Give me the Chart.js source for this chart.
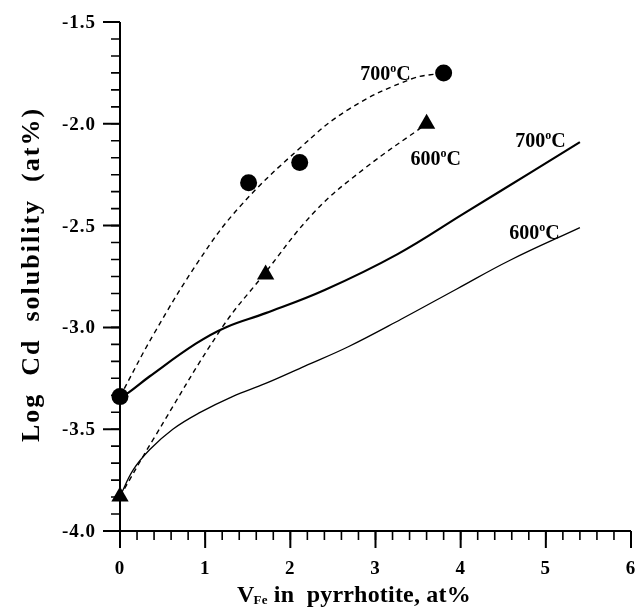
<!DOCTYPE html>
<html>
<head>
<meta charset="utf-8">
<script src="https://cdn.jsdelivr.net/npm/chart.js@4.4.0/dist/chart.umd.min.js"></script>
<style>
  html, body { margin: 0; padding: 0; background: #fff; }
  #wrap { width: 641px; height: 607px; }
</style>
</head>
<body>
<div id="wrap"><canvas id="myChart"></canvas></div>
<script>
// measured points (circles = 700C, triangles = 600C)
var circleX = [0, 1.51, 2.11, 3.80];
var circleY = [-3.34, -2.29, -2.19, -1.75];
var triX = [0, 1.71, 3.60];
var triY = [-3.83, -2.74, -2.00];

// dashed fitted curves through the points
var dash700X = [0, 0.4, 0.93, 1.40, 2.11, 2.68, 3.42, 3.80];
var dash700Y = [-3.34, -3.03, -2.67, -2.41, -2.12, -1.93, -1.78, -1.75];
var dash600X = [0, 0.39, 1.20, 1.67, 2.29, 2.87, 3.60];
var dash600Y = [-3.83, -3.55, -3.00, -2.75, -2.43, -2.22, -2.00];

// solid calculated curves
var solid700X = [0, 0.1, 0.35, 0.89, 1.24, 1.71, 2.41, 3.26, 4.04, 4.82, 5.40];
var solid700Y = [-3.34, -3.32, -3.24, -3.08, -3.00, -2.93, -2.815, -2.64, -2.44, -2.24, -2.09];
var solid600X = [0, 0.155, 0.35, 0.62, 0.93, 1.32, 1.71, 2.17, 2.68, 3.30, 3.96, 4.58, 5.40];
var solid600Y = [-3.83, -3.70, -3.60, -3.50, -3.42, -3.34, -3.275, -3.19, -3.095, -2.96, -2.81, -2.67, -2.51];

// axes
var xTicks = [0, 1, 2, 3, 4, 5, 6];
var yTicks = [-4.0, -3.5, -3.0, -2.5, -2.0, -1.5];
var xMinorStep = 0.2;
var yMinorStep = 0.5 / 6;

// curve labels
var labelTemp = ['700', '600', '700', '600'];
var labelX = [2.82, 3.41, 4.64, 4.57];
var labelY = [-1.75, -2.17, -2.08, -2.53];

function pts(xs, ys) {
  return xs.map(function (x, i) { return { x: x, y: ys[i] }; });
}

var serif = '"Liberation Serif", "Times New Roman", serif';

var axesPlugin = {
  id: 'axes',
  beforeDatasetsDraw: function (chart) {
    var ctx = chart.ctx, xs = chart.scales.x, ys = chart.scales.y;
    var left = xs.getPixelForValue(xTicks[0]);
    var right = xs.getPixelForValue(xTicks[xTicks.length - 1]);
    var bottom = ys.getPixelForValue(yTicks[0]);
    var top = ys.getPixelForValue(yTicks[yTicks.length - 1]);
    ctx.save();
    ctx.strokeStyle = '#000';
    ctx.lineWidth = 2;
    ctx.beginPath();
    ctx.moveTo(left, top); ctx.lineTo(left, bottom);
    ctx.moveTo(left, bottom); ctx.lineTo(right, bottom);
    ctx.stroke();

    // major ticks
    ctx.beginPath();
    xTicks.forEach(function (v) {
      var p = xs.getPixelForValue(v);
      ctx.moveTo(p, bottom); ctx.lineTo(p, bottom + 17);
    });
    yTicks.forEach(function (v) {
      var p = ys.getPixelForValue(v);
      ctx.moveTo(left, p); ctx.lineTo(left - 17, p);
    });
    ctx.stroke();

    // minor ticks
    ctx.lineWidth = 1.6;
    ctx.beginPath();
    for (var v = xTicks[0]; v < xTicks[xTicks.length - 1] - 1e-6; v += xMinorStep) {
      var p = xs.getPixelForValue(v);
      ctx.moveTo(p, bottom); ctx.lineTo(p, bottom + 9);
    }
    for (var w = yTicks[0]; w < yTicks[yTicks.length - 1] - 1e-6; w += yMinorStep) {
      var q = ys.getPixelForValue(w);
      ctx.moveTo(left, q); ctx.lineTo(left - 9, q);
    }
    ctx.stroke();

    // tick labels
    ctx.fillStyle = '#000';
    ctx.font = 'bold 19px ' + serif;
    ctx.letterSpacing = '1px';
    ctx.textAlign = 'center';
    ctx.textBaseline = 'middle';
    xTicks.forEach(function (v) {
      ctx.fillText(String(v), xs.getPixelForValue(v), bottom + 38);
    });
    ctx.textAlign = 'right';
    yTicks.forEach(function (v) {
      ctx.fillText(v.toFixed(1), left - 24, ys.getPixelForValue(v) + 1);
    });

    // y title
    ctx.save();
    ctx.translate(32, (top + bottom) / 2 - 2);
    ctx.rotate(-Math.PI / 2);
    ctx.font = 'bold 26px ' + serif;
    ctx.letterSpacing = '2px';
    ctx.textAlign = 'center';
    ctx.textBaseline = 'middle';
    ctx.fillText('Log  Cd  solubility  (at%)', 0, 0);
    ctx.restore();

    // x title with subscript
    ctx.letterSpacing = '0.2px';
    ctx.textAlign = 'left';
    ctx.textBaseline = 'alphabetic';
    var base = 602, tx = 237;
    ctx.font = 'bold 24px ' + serif;
    ctx.fillText('V', tx, base);
    tx += ctx.measureText('V').width - 1;
    ctx.font = 'bold 13px ' + serif;
    ctx.fillText('Fe', tx, base + 2);
    tx += ctx.measureText('Fe').width;
    ctx.font = 'bold 24px ' + serif;
    ctx.fillText(' in  pyrrhotite, at%', tx, base);

    // curve labels
    ctx.letterSpacing = '0px';
    for (var i = 0; i < labelTemp.length; i++) {
      var lx = xs.getPixelForValue(labelX[i]);
      var ly = ys.getPixelForValue(labelY[i]) + 7;
      ctx.font = 'bold 20px ' + serif;
      ctx.fillText(labelTemp[i], lx, ly);
      lx += ctx.measureText(labelTemp[i]).width;
      ctx.font = 'bold 12px ' + serif;
      ctx.fillText('o', lx, ly - 8);
      lx += ctx.measureText('o').width;
      ctx.font = 'bold 20px ' + serif;
      ctx.fillText('C', lx, ly);
    }
    ctx.restore();
  }
};

var lineDefaults = { showLine: true, pointRadius: 0, borderColor: '#000', tension: 0.4, clip: false };

var ctx = document.getElementById('myChart').getContext('2d');
var chart = new Chart(ctx, {
  type: 'scatter',
  data: {
    datasets: [
      { label: '700 data', data: pts(circleX, circleY), pointStyle: 'circle', pointRadius: 8.5,
        backgroundColor: '#000', borderColor: '#000', borderWidth: 0, clip: false },
      { label: '600 data', data: pts(triX, triY), pointStyle: 'triangle', pointRadius: 10,
        backgroundColor: '#000', borderColor: '#000', borderWidth: 0, clip: false },
      Object.assign({ label: '700 fit', data: pts(dash700X, dash700Y), borderWidth: 1.4, borderDash: [5, 4] }, lineDefaults),
      Object.assign({ label: '600 fit', data: pts(dash600X, dash600Y), borderWidth: 1.4, borderDash: [5, 4] }, lineDefaults),
      Object.assign({ label: '700 calc', data: pts(solid700X, solid700Y), borderWidth: 2.2 }, lineDefaults),
      Object.assign({ label: '600 calc', data: pts(solid600X, solid600Y), borderWidth: 1.3 }, lineDefaults)
    ]
  },
  options: {
    responsive: true,
    maintainAspectRatio: false,
    animation: false,
    layout: { padding: { left: 120, right: 6, top: 22, bottom: 76 } },
    plugins: { legend: { display: false }, tooltip: { enabled: false } },
    scales: {
      x: { type: 'linear', min: 0, max: 6, display: false },
      y: { type: 'linear', min: -4, max: -1.5, display: false }
    }
  },
  plugins: [axesPlugin]
});
</script>
</body>
</html>
